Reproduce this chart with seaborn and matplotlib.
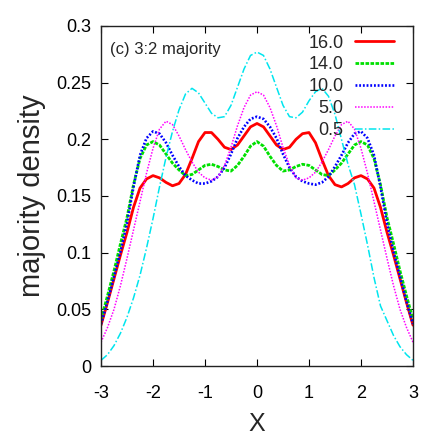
import matplotlib
matplotlib.use('Agg')
import matplotlib.pyplot as plt
import seaborn as sns

# -----------------------------
# data (x step 0.125)
# -----------------------------
x = [-3.0, -2.875, -2.75, -2.625, -2.5, -2.375, -2.25, -2.125, -2.0, -1.875, -1.75, -1.625,
     -1.5, -1.375, -1.25, -1.125, -1.0, -0.875, -0.75, -0.625, -0.5, -0.375, -0.25, -0.125,
     0.0,
     0.125, 0.25, 0.375, 0.5, 0.625, 0.75, 0.875, 1.0, 1.125, 1.25, 1.375, 1.5,
     1.625, 1.75, 1.875, 2.0, 2.125, 2.25, 2.375, 2.5, 2.625, 2.75, 2.875, 3.0]

d16 = [0.036, 0.056, 0.077, 0.098, 0.118, 0.140, 0.157, 0.165, 0.168, 0.166, 0.162, 0.159,
       0.161, 0.169, 0.183, 0.198, 0.206, 0.206, 0.200, 0.193, 0.191, 0.195, 0.203, 0.211,
       0.214,
       0.211, 0.203, 0.195, 0.191, 0.193, 0.200, 0.205, 0.206, 0.197, 0.182, 0.168, 0.160,
       0.158, 0.161, 0.166, 0.168, 0.165, 0.157, 0.140, 0.118, 0.098, 0.077, 0.056, 0.036]
d14 = [0.041, 0.062, 0.084, 0.108, 0.131, 0.160, 0.183, 0.195, 0.198, 0.195, 0.187, 0.179,
       0.173, 0.168, 0.169, 0.173, 0.177, 0.178, 0.176, 0.173, 0.172, 0.177, 0.185, 0.194,
       0.198,
       0.194, 0.185, 0.177, 0.172, 0.173, 0.176, 0.178, 0.177, 0.173, 0.169, 0.168, 0.173,
       0.179, 0.187, 0.195, 0.198, 0.195, 0.183, 0.160, 0.131, 0.108, 0.084, 0.062, 0.041]
d10 = [0.037, 0.057, 0.079, 0.101, 0.126, 0.158, 0.186, 0.201, 0.207, 0.205, 0.197, 0.186,
       0.176, 0.168, 0.164, 0.161, 0.161, 0.163, 0.167, 0.175, 0.187, 0.201, 0.211, 0.218,
       0.220,
       0.218, 0.211, 0.201, 0.187, 0.175, 0.167, 0.163, 0.161, 0.160, 0.162, 0.167, 0.176,
       0.186, 0.197, 0.205, 0.207, 0.201, 0.186, 0.158, 0.126, 0.101, 0.079, 0.057, 0.037]
d5 = [0.021, 0.034, 0.050, 0.071, 0.095, 0.120, 0.145, 0.170, 0.192, 0.209, 0.216, 0.213,
      0.203, 0.191, 0.180, 0.171, 0.166, 0.164, 0.167, 0.177, 0.193, 0.212, 0.228, 0.239,
      0.242,
      0.239, 0.228, 0.212, 0.193, 0.177, 0.166, 0.164, 0.166, 0.171, 0.180, 0.191, 0.203,
      0.213, 0.216, 0.209, 0.192, 0.170, 0.145, 0.120, 0.095, 0.071, 0.050, 0.034, 0.021]
d05 = [0.005, 0.010, 0.018, 0.029, 0.043, 0.060, 0.080, 0.104, 0.130, 0.158, 0.184, 0.207,
       0.226, 0.240, 0.245, 0.241, 0.232, 0.223, 0.219, 0.220, 0.230, 0.246, 0.262, 0.274,
       0.277,
       0.274, 0.262, 0.246, 0.230, 0.220, 0.219, 0.224, 0.234, 0.242, 0.245, 0.238, 0.222,
       0.200, 0.178, 0.160, 0.134, 0.107, 0.078, 0.053, 0.040, 0.027, 0.017, 0.010, 0.005]

labels = ['16.0', '14.0', '10.0', '5.0', '0.5']
xticks = [-3, -2, -1, 0, 1, 2, 3]
yticks = [0, 0.05, 0.1, 0.15, 0.2, 0.25, 0.3]
ytick_labels = ['0', '0.05', '0.1', '0.15', '0.2', '0.25', '0.3']

# line styles, gnuplot-ish
styles = {
    '16.0': dict(color='#ff0000', linestyle='-', linewidth=2.0),
    '14.0': dict(color='#00e000', linestyle=(0, (1.3, 0.5)), linewidth=2.0),
    '10.0': dict(color='#0000ff', linestyle=(0, (0.7, 0.7)), linewidth=1.9),
    '5.0': dict(color='#ff00ff', linestyle=(0, (1.0, 1.0)), linewidth=1.1),
    '0.5': dict(color='#00e5ee', linestyle=(0, (5, 1.5, 1, 1.5)), linewidth=1.1),
}

sns.set_theme(style='ticks')
plt.rcParams['font.family'] = ['Liberation Sans', 'DejaVu Sans']

fig = plt.figure(figsize=(4.36, 4.36), dpi=100)
ax = fig.add_axes([101 / 436, 70 / 436, 312 / 436, 340 / 436])

for lab, ys in zip(labels, [d16, d14, d10, d5, d05]):
    sns.lineplot(x=x, y=ys, ax=ax, label=lab, **styles[lab])

ax.set_xlim(-3, 3)
ax.set_ylim(0, 0.3)
ax.set_xticks(xticks)
ax.set_xticklabels([str(t) for t in xticks])
ax.set_yticks(yticks)
ax.set_yticklabels(ytick_labels)
ax.tick_params(direction='in', top=True, right=True, length=5, width=0.8,
               labelsize=13, colors='black')
ax.tick_params(axis='x', pad=14)
ax.tick_params(axis='y', pad=7)
for sp in ax.spines.values():
    sp.set_color('#222222')
    sp.set_linewidth(1.0)

ax.set_xlabel('X', fontsize=18, labelpad=7)
ax.set_ylabel('majority density', fontsize=21, labelpad=7)

ax.text(0.03, 0.93, '(c) 3:2 majority', transform=ax.transAxes,
        fontsize=12, ha='left', va='center')

ax.legend(loc='upper right', bbox_to_anchor=(0.94, 0.975), frameon=False,
          markerfirst=False, fontsize=13, handlelength=2.2, handletextpad=0.6,
          labelspacing=0.27, borderpad=0, borderaxespad=0)

fig.savefig('out.png', dpi=100, facecolor='white')
